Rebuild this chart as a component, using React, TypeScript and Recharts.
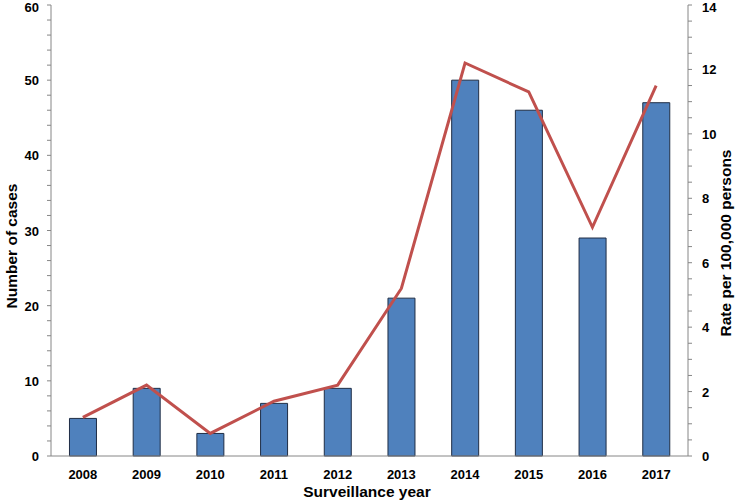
import React from 'react';
import { ComposedChart, Bar, Line, XAxis, YAxis, Label } from 'recharts';

const years = ['2008', '2009', '2010', '2011', '2012', '2013', '2014', '2015', '2016', '2017'];
const cases = [5, 9, 3, 7, 9, 21, 50, 46, 29, 47];
const rates = [1.2, 2.2, 0.7, 1.7, 2.2, 5.2, 12.2, 11.3, 7.1, 11.5];

const leftTicks = [0, 2, 4, 6, 8, 10, 12, 14, 16, 18, 20, 22, 24, 26, 28, 30, 32, 34, 36, 38, 40, 42, 44, 46, 48, 50, 52, 54, 56, 58, 60];
const leftLabels = [0, 10, 20, 30, 40, 50, 60];
const rightTicks = [0, 0.5, 1, 1.5, 2, 2.5, 3, 3.5, 4, 4.5, 5, 5.5, 6, 6.5, 7, 7.5, 8, 8.5, 9, 9.5, 10, 10.5, 11, 11.5, 12, 12.5, 13, 13.5, 14];
const rightLabels = [0, 2, 4, 6, 8, 10, 12, 14];

const data = years.map((year, i) => ({ year, cases: cases[i], rate: rates[i] }));

const font = 'Arial, "Liberation Sans", sans-serif';
const axisGray = '#868686';
const titleStyle = { fill: '#000', fontFamily: font, fontWeight: 'bold', fontSize: 15.5 } as const;

const LeftTick = (props: any) => {
  const { x, y, payload } = props;
  if (!leftLabels.includes(payload.value)) return null;
  // keep the top label inside the picture
  const dy = payload.value === 60 ? 7 : 5;
  return (
    <text x={x - 6} y={y} dy={dy} textAnchor="end" fontFamily={font} fontWeight="bold" fontSize={13} fill="#000">
      {payload.value}
    </text>
  );
};

const RightTick = (props: any) => {
  const { x, y, payload } = props;
  if (!rightLabels.includes(payload.value)) return null;
  const dy = payload.value === 14 ? 7 : 5;
  return (
    <text x={x + 8} y={y} dy={dy} textAnchor="start" fontFamily={font} fontWeight="bold" fontSize={13} fill="#000">
      {payload.value}
    </text>
  );
};

export default function App() {
  return (
    <div style={{ position: 'absolute', left: 0, top: 0, width: 735, height: 502, background: '#fff' }}>
      <ComposedChart width={735} height={502} data={data} margin={{ top: 5, right: 0, left: 0, bottom: 0 }} barCategoryGap="29%">
        <XAxis
          dataKey="year"
          height={46}
          stroke={axisGray}
          tickLine={false}
          tick={{ fill: '#000', fontFamily: font, fontWeight: 'bold', fontSize: 13 }}
          tickMargin={8}
        >
          <Label
            content={() => (
              <text x={367} y={497} textAnchor="middle" style={titleStyle}>
                Surveillance year
              </text>
            )}
          />
        </XAxis>
        <YAxis
          yAxisId="left"
          width={51}
          domain={[0, 60]}
          ticks={leftTicks}
          interval={0}
          stroke={axisGray}
          tickSize={4}
          tick={<LeftTick />}
        >
          <Label
            content={() => (
              <text x={17} y={246} transform="rotate(-90 17 246)" textAnchor="middle" style={titleStyle}>
                Number of cases
              </text>
            )}
          />
        </YAxis>
        <YAxis
          yAxisId="right"
          orientation="right"
          width={47}
          domain={[0, 14]}
          ticks={rightTicks}
          interval={0}
          stroke={axisGray}
          tickSize={4}
          tick={<RightTick />}
        >
          <Label
            content={() => (
              <text x={731} y={243} transform="rotate(-90 731 243)" textAnchor="middle" style={titleStyle}>
                Rate per 100,000 persons
              </text>
            )}
          />
        </YAxis>
        <Bar yAxisId="left" dataKey="cases" fill="#4F81BD" stroke="#1F2D45" strokeWidth={1} isAnimationActive={false} />
        <Line yAxisId="right" dataKey="rate" type="linear" stroke="#C0504D" strokeWidth={3} dot={false} isAnimationActive={false} />
      </ComposedChart>
    </div>
  );
}
